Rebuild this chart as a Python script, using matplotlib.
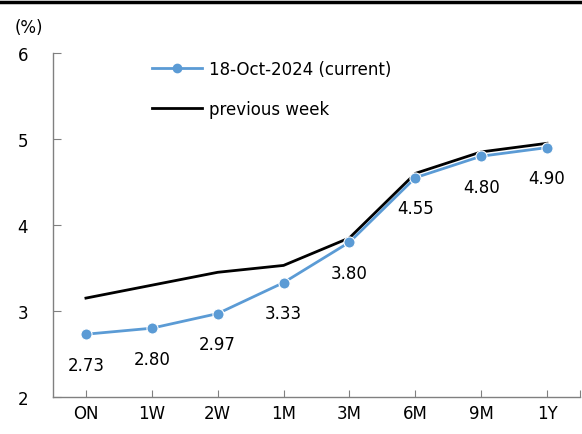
import matplotlib
matplotlib.use("Agg")
import matplotlib.pyplot as plt
from matplotlib.lines import Line2D

tenors = ["ON", "1W", "2W", "1M", "3M", "6M", "9M", "1Y"]
current = [2.73, 2.80, 2.97, 3.33, 3.80, 4.55, 4.80, 4.90]
prev_week = [3.15, 3.30, 3.45, 3.53, 3.85, 4.60, 4.85, 4.95]

BLUE = "#5B9BD5"
INK = "#000000"
AXIS = "#808080"

plt.rcParams.update({"font.family": "DejaVu Sans", "font.size": 12})

fig = plt.figure(figsize=(5.82, 4.35), dpi=100)
ax = fig.add_axes([53 / 582, 37 / 435, 527 / 582, 344 / 435])

xs = list(range(len(tenors)))
ax.plot(xs, prev_week, color=INK, linewidth=2.0, zorder=2)
ax.plot(xs, current, color=BLUE, linewidth=2.0, marker="o", markersize=8,
        markeredgecolor="white", markeredgewidth=0.8, zorder=3)
for x, v in zip(xs, current):
    ax.annotate(f"{v:.2f}", xy=(x, v), xytext=(0, -22), textcoords="offset points",
                ha="center", va="center", fontsize=12, color=INK)

ax.set_xlim(-0.5, len(tenors) - 0.5)
ax.set_ylim(2, 6)
ax.set_yticks([2, 3, 4, 5, 6])
ax.set_xticks(xs + [len(tenors) - 0.5])
ax.set_xticklabels(tenors + [""])
ax.tick_params(axis="y", direction="in", length=6, color=AXIS, pad=18, labelsize=12)
ax.tick_params(axis="x", direction="in", length=5, color=AXIS, pad=5, labelsize=12)
ax.spines[["top", "right"]].set_visible(False)
for s in ("left", "bottom"):
    ax.spines[s].set_color(AXIS)
    ax.spines[s].set_linewidth(1.0)

fig.text(15 / 582, 1 - 28 / 435, "(%)", fontsize=12, ha="left", va="center")

handles = [Line2D([], [], color=BLUE, linewidth=2.0, marker="o", markersize=6),
           Line2D([], [], color=INK, linewidth=2.0)]
ax.legend(handles, ["18-Oct-2024 (current)", "previous week"], frameon=False,
          loc="upper left", bbox_to_anchor=(137 / 582, 1 - 46 / 435),
          bbox_transform=fig.transFigure, handlelength=3.0, handletextpad=0.4,
          labelspacing=1.3, fontsize=12)

# thick rule across the top edge
fig.add_artist(Line2D([0, 1], [1 - 2.5 / 435, 1 - 2.5 / 435], color=INK,
                      linewidth=2.5, transform=fig.transFigure))

fig.savefig("out.png", dpi=100)
